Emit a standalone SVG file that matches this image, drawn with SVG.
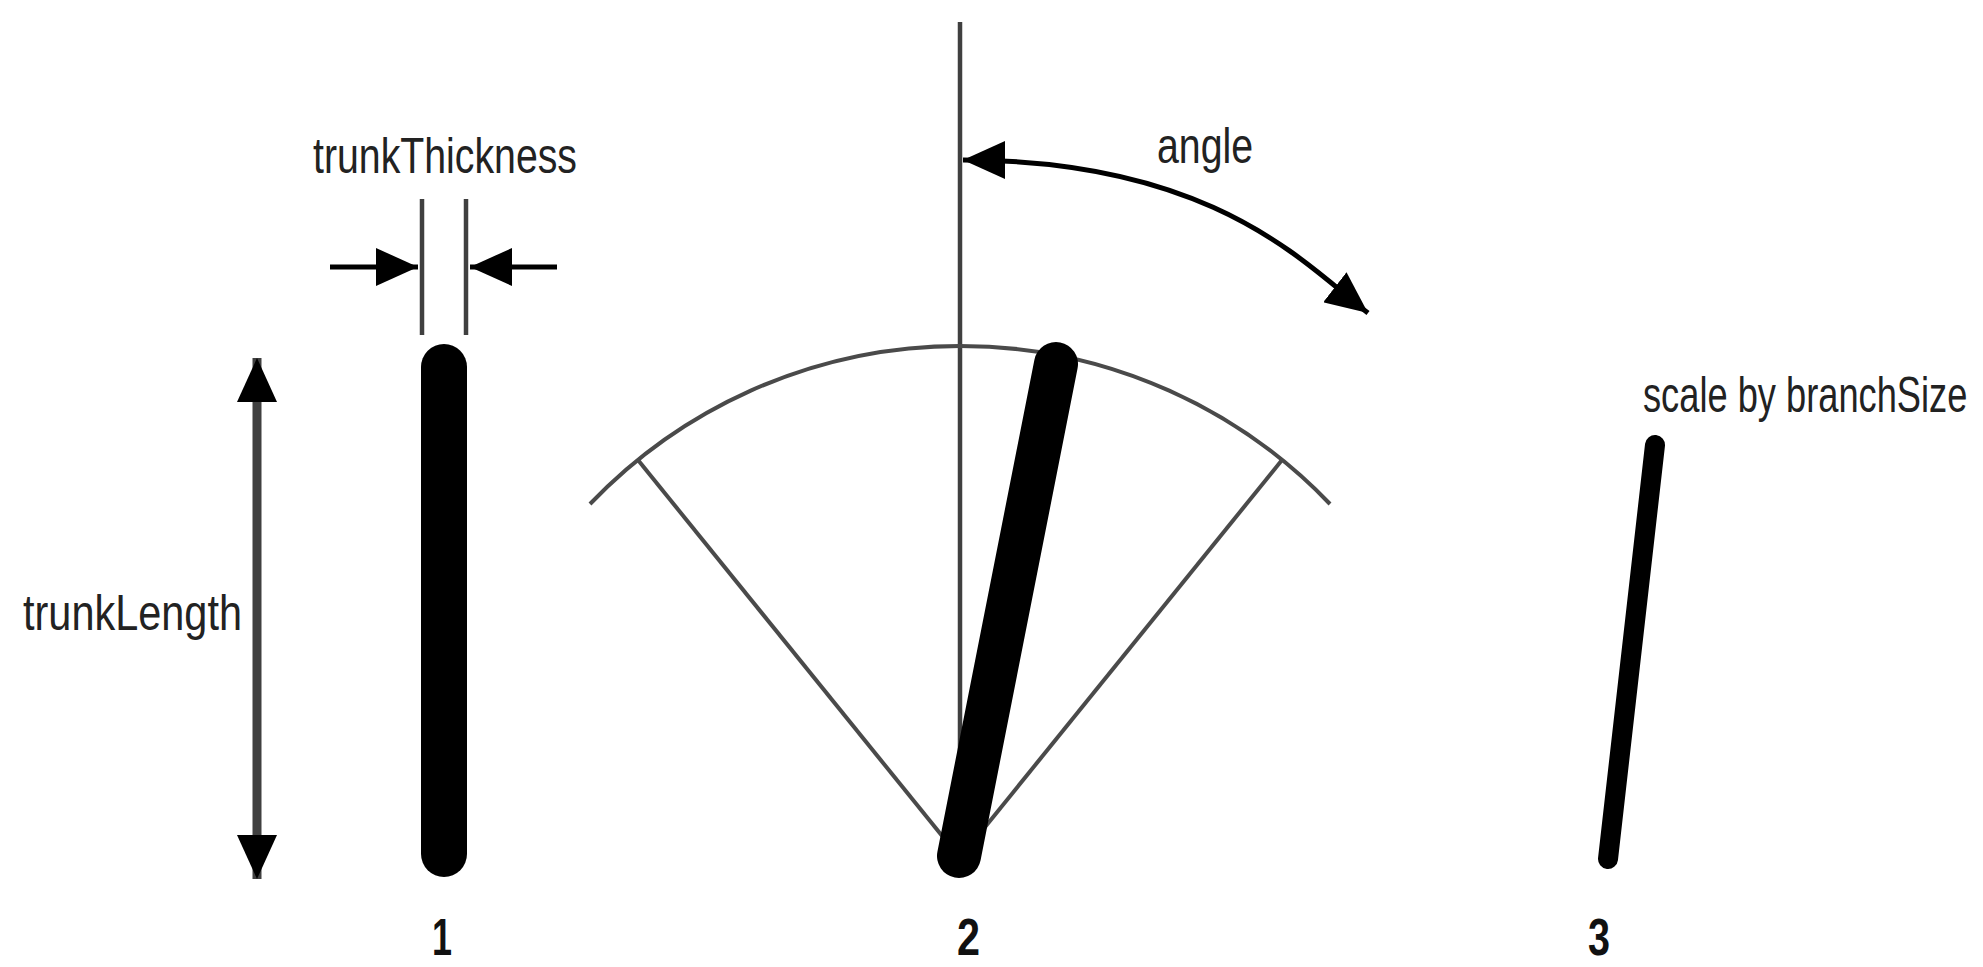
<svg xmlns="http://www.w3.org/2000/svg" width="1983" height="967" viewBox="0 0 1983 967">
  <defs>
    <style>
      .lbl { font-family: "Liberation Sans", Arial, sans-serif; font-size: 50px; fill: #222; }
      .num { font-family: "Liberation Sans", Arial, sans-serif; font-size: 52px; font-weight: bold; fill: #111; }
      .thin { stroke: #404040; stroke-width: 4.5; fill: none; }
      .guide { stroke: #4a4a4a; stroke-width: 4; fill: none; }
      .shaft { stroke: #000; stroke-width: 5; fill: none; }
      .branch { stroke: #000; stroke-linecap: round; fill: none; }
    </style>
    <marker id="ah" viewBox="0 0 42 38" refX="42" refY="19" markerWidth="42" markerHeight="38" markerUnits="userSpaceOnUse" orient="auto-start-reverse">
      <path d="M0,0 L42,19 L0,38 Z" fill="#000"/>
    </marker>
    <marker id="ahBig" viewBox="0 0 44 40" refX="44" refY="20" markerWidth="44" markerHeight="40" markerUnits="userSpaceOnUse" orient="auto-start-reverse">
      <path d="M0,0 L44,20 L0,40 Z" fill="#000"/>
    </marker>
  </defs>
  <rect width="1983" height="967" fill="#fff"/>

  <g id="connectors">
    <!-- trunkThickness guides -->
    <line class="thin" x1="422" y1="199" x2="422" y2="335"/>
    <line class="thin" x1="466" y1="199" x2="466" y2="335"/>
    <line class="shaft" x1="330" y1="267" x2="418" y2="267" marker-end="url(#ah)"/>
    <line class="shaft" x1="557" y1="267" x2="470" y2="267" marker-end="url(#ah)"/>
    <!-- trunkLength double arrow -->
    <line x1="257" y1="358" x2="257" y2="879" stroke="#404040" stroke-width="9" marker-start="url(#ahBig)" marker-end="url(#ahBig)"/>
    <!-- vertical reference line -->
    <line class="thin" x1="960" y1="22" x2="960" y2="850"/>
    <!-- arc and fan -->
    <path class="guide" d="M590,504 A512,512 0 0 1 1330,504"/>
    <line class="guide" x1="960" y1="858" x2="638" y2="460"/>
    <line class="guide" x1="960" y1="858" x2="1282" y2="460"/>
    <!-- angle arrow -->
    <path class="shaft" d="M963,160 C1213,160 1305,264 1368,313" marker-start="url(#ah)" marker-end="url(#ah)"/>
  </g>

  <g id="trunk1">
    <line class="branch" x1="444" y1="367" x2="444" y2="854" stroke-width="46"/>
  </g>
  <g id="trunk2">
    <line class="branch" x1="959" y1="856" x2="1056" y2="364" stroke-width="44"/>
  </g>
  <g id="branch3">
    <line class="branch" x1="1608" y1="859" x2="1655" y2="445" stroke-width="20"/>
  </g>

  <g id="labels">
    <text class="lbl" x="313" y="173" textLength="264" lengthAdjust="spacingAndGlyphs">trunkThickness</text>
    <text class="lbl" x="23" y="630" textLength="219" lengthAdjust="spacingAndGlyphs">trunkLength</text>
    <text class="lbl" x="1157" y="163" textLength="96" lengthAdjust="spacingAndGlyphs">angle</text>
    <text class="lbl" transform="translate(1643,412) scale(0.725,1)">scale by branchSize</text>
    <text class="num" x="432" y="955" textLength="20" lengthAdjust="spacingAndGlyphs">1</text>
    <text class="num" x="957" y="955" textLength="23" lengthAdjust="spacingAndGlyphs">2</text>
    <text class="num" x="1588" y="955" textLength="22" lengthAdjust="spacingAndGlyphs">3</text>
  </g>
</svg>
